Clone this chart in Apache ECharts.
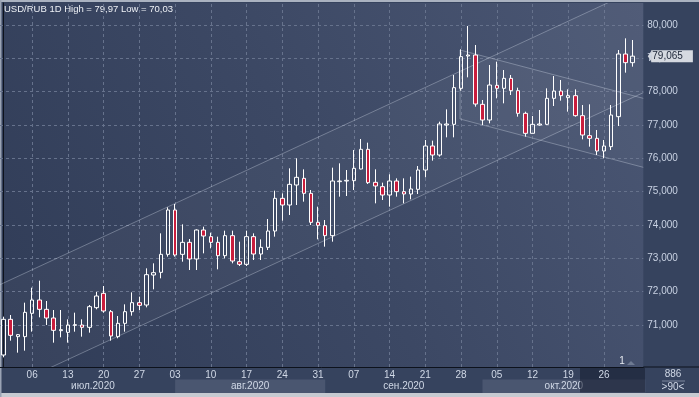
<!DOCTYPE html>
<html>
<head>
<meta charset="utf-8">
<script src="https://cdn.jsdelivr.net/npm/echarts@6/dist/echarts.min.js"></script>
<style>
html, body { margin: 0; padding: 0; background: #36435e; }
#main { width: 699px; height: 397px; }
</style>
</head>
<body>
<div id="main"></div>
<script>
// trading days (Jun 30 .. Oct 30, 2020)
var junDays = [30];
var julDays = [1, 2, 3, 6, 7, 8, 9, 10, 13, 14, 15, 16, 17, 20, 21, 22, 23, 24, 27, 28, 29, 30, 31];
var augDays = [3, 4, 5, 6, 7, 10, 11, 12, 13, 14, 17, 18, 19, 20, 21, 24, 25, 26, 27, 28, 31];
var sepDays = [1, 2, 3, 4, 7, 8, 9, 10, 11, 14, 15, 16, 17, 18, 21, 22, 23, 24, 25, 28, 29, 30];
var octDays = [1, 2, 5, 6, 7, 8, 9, 12, 13, 14, 15, 16, 19, 20, 21, 22, 23, 26, 27, 28, 29, 30];

var monthLabels = ['июл.2020', 'авг.2020', 'сен.2020', 'окт.2020'];
var monthStarts = ['2020-07-01', '2020-08-03', '2020-09-01', '2020-10-01'];

var openVals = [70.10, 71.17, 70.65, 70.65, 71.35, 71.75, 71.47, 71.21, 70.83, 70.78,
	70.99, 71.00, 70.93, 71.52, 71.95, 71.40, 70.65, 71.05, 71.40, 71.67,
	71.60, 72.50, 72.58, 73.12, 74.45, 73.12, 73.48, 72.98, 73.85, 73.65,
	73.48, 73.08, 73.68, 72.90, 72.82, 73.65, 73.13, 73.33, 73.82, 74.80,
	74.60, 75.20, 75.40, 74.95, 74.08, 73.98, 73.68, 75.30, 75.32, 75.33,
	75.68, 76.27, 75.28, 75.15, 74.90, 75.32, 75.00, 74.93, 75.07, 75.65,
	76.37, 76.10, 77.00, 77.02, 78.10, 79.07, 79.10, 77.62, 77.15, 78.19,
	78.10, 78.40, 78.03, 77.35, 76.75, 77.00, 77.02, 77.80, 78.02, 77.82,
	77.88, 77.28, 76.68, 76.60, 76.22, 76.35, 77.25, 79.13, 78.87];
var closeVals = [71.17, 70.69, 70.71, 71.38, 71.75, 71.47, 71.21, 70.84, 70.86, 71.00,
	71.01, 70.93, 71.55, 71.87, 71.42, 70.67, 71.05, 71.40, 71.67, 71.59,
	72.51, 72.57, 73.12, 74.45, 73.10, 73.48, 72.98, 73.85, 73.67, 73.48,
	73.08, 73.68, 72.92, 72.82, 73.65, 73.13, 73.33, 73.82, 74.80, 74.60,
	75.22, 75.43, 74.95, 74.08, 73.99, 73.68, 75.32, 75.32, 75.34, 75.70,
	76.27, 75.27, 75.17, 74.90, 75.32, 75.00, 74.93, 75.08, 75.65, 76.37,
	76.10, 77.03, 77.03, 78.12, 79.05, 79.10, 77.63, 77.15, 78.20, 78.10,
	78.40, 78.03, 77.35, 76.75, 77.02, 77.03, 77.80, 78.02, 77.88, 77.88,
	77.28, 76.70, 76.60, 76.22, 76.37, 77.30, 79.13, 78.87, 79.065];
var lowVals = [70.03, 70.53, 70.17, 70.23, 70.80, 71.23, 71.00, 70.47, 70.63, 70.47,
	70.80, 70.65, 70.77, 71.47, 71.37, 70.53, 70.60, 70.80, 71.28, 71.45,
	71.53, 72.07, 72.40, 73.05, 73.05, 72.90, 72.65, 72.65, 73.15, 73.30,
	72.67, 73.00, 72.85, 72.77, 72.77, 72.95, 72.95, 73.25, 73.65, 74.13,
	74.30, 74.60, 74.70, 74.00, 73.57, 73.35, 73.50, 74.85, 74.87, 75.05,
	75.67, 75.23, 74.65, 74.75, 74.55, 74.85, 74.65, 74.77, 74.93, 75.43,
	75.93, 76.05, 76.63, 76.63, 78.03, 78.43, 77.55, 77.00, 77.05, 77.80,
	77.65, 77.90, 77.25, 76.65, 76.75, 76.98, 77.00, 77.57, 77.73, 77.40,
	77.25, 76.57, 76.35, 76.10, 76.00, 76.25, 76.97, 78.57, 78.75];
var highVals = [71.25, 71.30, 70.73, 71.67, 72.12, 72.33, 71.72, 71.45, 71.45, 71.17,
	71.37, 71.17, 71.60, 71.99, 72.17, 71.45, 71.27, 71.62, 71.98, 71.85,
	72.70, 72.85, 73.75, 74.53, 74.63, 74.02, 73.58, 73.87, 73.95, 73.77,
	73.65, 73.83, 73.83, 73.50, 73.83, 73.75, 73.57, 74.18, 75.03, 74.95,
	75.70, 76.00, 75.67, 75.05, 74.55, 74.15, 75.72, 75.85, 75.65, 76.25,
	76.58, 76.47, 75.67, 75.27, 75.52, 75.40, 75.40, 75.45, 75.77, 76.55,
	76.53, 77.10, 77.47, 78.50, 79.27, 79.97, 79.40, 77.75, 78.80, 78.90,
	78.65, 78.50, 78.12, 77.40, 77.27, 77.45, 78.10, 78.47, 78.35, 78.07,
	78.07, 77.60, 77.62, 76.85, 76.55, 77.60, 79.25, 79.60, 79.55];

var yTicks = [71, 72, 73, 74, 75, 76, 77, 78, 79, 80];
var lastPrice = 79.065;

// trend channels in [dayIndex, price]
var risingUpper = [[-0.5, 72.21], [89.5, 81.16]];
var risingLower = [[-0.5, 69.02], [89.5, 77.97]];
var fallingUpper = [[63.86, 79.25], [89.5, 77.80]];
var fallingLower = [[63.86, 77.18], [89.5, 75.73]];

function pad(n) { return n < 10 ? '0' + n : '' + n; }
var tradeDates = [];
[['06', junDays], ['07', julDays], ['08', augDays], ['09', sepDays], ['10', octDays]].forEach(function (m) {
	m[1].forEach(function (d) { tradeDates.push('2020-' + m[0] + '-' + pad(d)); });
});
function isMonday(d) {
	return d !== '' && new Date(d + 'T00:00:00Z').getUTCDay() === 1;
}
var categories = tradeDates.concat(['']);
var candleData = tradeDates.map(function (d, i) {
	return [openVals[i], closeVals[i], lowVals[i], highVals[i]];
});
var channels = [
	{ top: risingUpper, bottom: risingLower, leftEdge: false },
	{ top: fallingUpper, bottom: fallingLower, leftEdge: true }
];

var fontName = 'Liberation Sans';
var gridLine = { type: [3, 3], color: '#66728c', width: 1 };

var gridMarks = tradeDates.filter(isMonday).map(function (d) { return { xAxis: d }; })
	.concat(yTicks.map(function (v) {
		return {
			yAxis: v,
			label: {
				show: true, position: 'end', distance: 4,
				formatter: v.toFixed(3).replace('.', ','),
				color: '#c9d2e3', fontSize: 10, fontFamily: fontName
			}
		};
	}));

var chart = echarts.init(document.getElementById('main'));
var option = {
	animation: false,
	backgroundColor: '#36435e',
	grid: {
		left: 0, right: 55.7, top: 3, bottom: 30,
		show: true, borderWidth: 0,
		backgroundColor: new echarts.graphic.LinearGradient(1, 0, 0, 1, [
			{ offset: 0, color: '#4b5774' },
			{ offset: 0.5, color: '#3c4864' },
			{ offset: 1, color: '#303c57' }
		])
	},
	xAxis: [{
		type: 'category',
		data: categories,
		axisLine: { lineStyle: { color: '#0d121c', width: 1 } },
		axisTick: { show: false },
		splitLine: { show: false },
		axisLabel: {
			interval: function (idx, val) { return isMonday(val); },
			formatter: function (val) { return val.slice(8); },
			color: '#d0d8e6', fontSize: 10, fontFamily: fontName, margin: 3
		}
	}, {
		type: 'value', min: -0.5, max: 89.5, show: false
	}],
	yAxis: {
		type: 'value', position: 'right', offset: 3,
		min: 69.74, max: 80.66, scale: true,
		axisLine: { show: true, lineStyle: { color: '#0d121c' } },
		axisTick: { show: false },
		axisLabel: { show: false },
		splitLine: { show: false }
	},
	series: [{
		type: 'line',
		data: [],
		silent: true,
		markLine: {
			z: 1, silent: true, symbol: 'none',
			label: { show: false },
			lineStyle: gridLine,
			emphasis: { disabled: true },
			data: gridMarks
		}
	}, {
		type: 'custom',
		xAxisIndex: 1,
		z: 2,
		clip: true,
		silent: true,
		data: [[0, 75], [1, 75]],
		renderItem: function (params, api) {
			var ch = channels[params.dataIndex];
			var t0 = api.coord(ch.top[0]), t1 = api.coord(ch.top[1]);
			var b0 = api.coord(ch.bottom[0]), b1 = api.coord(ch.bottom[1]);
			var stroke = 'rgba(210,218,232,0.36)';
			var kids = [{
				type: 'polygon', shape: { points: [t0, t1, b1, b0] },
				style: { fill: 'rgba(255,255,255,0.035)', stroke: null }
			}, {
				type: 'line', shape: { x1: t0[0], y1: t0[1], x2: t1[0], y2: t1[1] },
				style: { stroke: stroke, lineWidth: 1 }
			}, {
				type: 'line', shape: { x1: b0[0], y1: b0[1], x2: b1[0], y2: b1[1] },
				style: { stroke: stroke, lineWidth: 1 }
			}];
			if (ch.leftEdge) {
				kids.push({
					type: 'line', shape: { x1: t0[0], y1: t0[1], x2: b0[0], y2: b0[1] },
					style: { stroke: stroke, lineWidth: 1 }
				});
			}
			return { type: 'group', children: kids };
		}
	}, {
		type: 'candlestick',
		data: candleData,
		barWidth: 4,
		z: 3,
		itemStyle: {
			color: 'rgba(0,0,0,0)',
			color0: '#c91d3d',
			borderColor: '#ffffff',
			borderColor0: '#ffffff',
			borderWidth: 1
		},
		markLine: {
			silent: true, symbol: 'none',
			lineStyle: { color: 'rgba(0,0,0,0)' },
			label: {
				show: true, position: 'end', distance: 8,
				formatter: lastPrice.toFixed(3).replace('.', ','),
				backgroundColor: '#d5d9e0', color: '#1b2436',
				padding: [1, 10, 1, 1], fontSize: 10, fontFamily: fontName
			},
			data: [{ yAxis: lastPrice }]
		}
	}]
};
chart.setOption(option);

// month row under the day labels, price tag pointer
var graphics = [];
var plotRight = chart.convertToPixel({ xAxisIndex: 1 }, 89.5);
var tagY = chart.convertToPixel({ yAxisIndex: 0 }, lastPrice);
for (var m = 0; m < monthStarts.length; m++) {
	var x0 = chart.convertToPixel({ xAxisIndex: 0 }, monthStarts[m]);
	var x1 = m + 1 < monthStarts.length ? chart.convertToPixel({ xAxisIndex: 0 }, monthStarts[m + 1]) : plotRight + 2;
	if (m % 2 === 1) {
		graphics.push({ type: 'rect', shape: { x: x0, y: 379.5, width: x1 - x0, height: 13.5 }, style: { fill: '#4a5670' } });
	}
	graphics.push({
		type: 'text', x: (x0 + x1) / 2, y: 386.5,
		style: { text: monthLabels[m], fill: '#d0d8e6', font: '10px ' + fontName, textAlign: 'center', textVerticalAlign: 'middle' }
	});
}
graphics = graphics.concat([
	{ type: 'polygon', shape: { points: [[plotRight + 4.5, tagY], [plotRight + 8.5, tagY - 6], [plotRight + 8.5, tagY + 6]] }, style: { fill: '#d5d9e0' } },
	{ type: 'rect', shape: { x: 0, y: 0, width: 699, height: 2 }, style: { fill: '#aab2c0' } },
	{ type: 'rect', shape: { x: 0, y: 393, width: 699, height: 4 }, style: { fill: '#c6cad1' } },
	{ type: 'rect', shape: { x: 0, y: 0, width: 1.5, height: 397 }, style: { fill: '#9aa3b4' } },
	{ type: 'line', shape: { x1: plotRight, y1: 367, x2: 699, y2: 367 }, style: { stroke: '#0d121c', lineWidth: 1 } },
	{ type: 'rect', shape: { x: 580, y: 367.5, width: 65, height: 25 }, style: { fill: 'rgba(22,30,48,0.55)' } },
	{ type: 'text', x: 4, y: 9.5, style: { text: 'USD/RUB 1D High = 79,97 Low = 70,03', fill: '#eef1f6', font: '9.5px ' + fontName, textVerticalAlign: 'middle' } },
	{ type: 'text', x: 673, y: 374.5, style: { text: '886', fill: '#d0d8e6', font: '10px ' + fontName, textAlign: 'center', textVerticalAlign: 'middle' } },
	{ type: 'line', shape: { x1: 662, y1: 381, x2: 685, y2: 381 }, style: { stroke: '#7d889e', lineWidth: 1 } },
	{ type: 'text', x: 673, y: 387.5, style: { text: '>90<', fill: '#d0d8e6', font: '10px ' + fontName, textAlign: 'center', textVerticalAlign: 'middle' } },
	{ type: 'text', x: 622, y: 361.5, style: { text: '1', fill: '#e6eaf0', font: '10px ' + fontName, textAlign: 'center', textVerticalAlign: 'middle' } },
	{ type: 'polygon', shape: { points: [[627, 365], [631, 361], [635, 365]] }, style: { fill: '#6e7a92' } }
]);
chart.setOption({ graphic: graphics });
</script>
</body>
</html>
